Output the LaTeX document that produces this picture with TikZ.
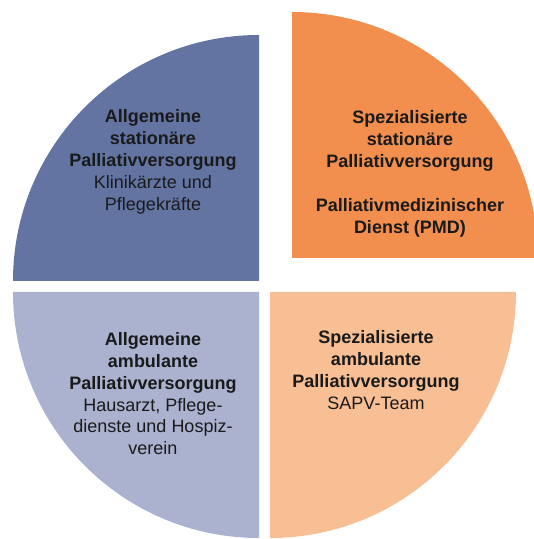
\documentclass[tikz,border=0pt]{standalone}
\usepackage{fontspec}
\setmainfont{Liberation Sans}
\usepackage{tikz}

\definecolor{darkblue}{RGB}{99,116,162}
\definecolor{lightblue}{RGB}{170,178,208}
\definecolor{darkorange}{RGB}{242,143,78}
\definecolor{lightorange}{RGB}{248,190,148}
\definecolor{textgray}{RGB}{26,26,26}

\begin{document}
\begin{tikzpicture}[
        x=1pt, y=1pt,
        quad/.style={draw=none},
        txt/.style={anchor=base, align=center, text=textgray,
                    font=\fontsize{18}{22}\selectfont, inner sep=0pt}
    ]
        \useasboundingbox (0,0) rectangle (534,539);

        % stationaer
        \fill[quad, darkblue] (259,258) -- ++(-246,0)
            arc[start angle=180, end angle=90, radius=246] -- cycle;
        \fill[quad, darkorange] (292,281) -- ++(0,246)
            arc[start angle=90, end angle=0, radius=246] -- cycle;

        % ambulant
        \fill[quad, lightblue] (259,247) -- ++(0,-246)
            arc[start angle=270, end angle=180, radius=246] -- cycle;
        \fill[quad, lightorange] (270,247) -- ++(246,0)
            arc[start angle=0, end angle=-90, radius=246] -- cycle;

        \node[txt] (asp) at (153,328) {\textbf{Allgemeine}\\ \textbf{stationäre}\\
            \textbf{Palliativversorgung}\\ Klinikärzte und\\ Pflegekräfte};
        \node[txt] (ssp) at (410,305) {\textbf{Spezialisierte}\\ \textbf{stationäre}\\
            \textbf{Palliativversorgung}\\[22pt] \textbf{Palliativmedizinischer}\\
            \textbf{Dienst (PMD)}};
        \node[txt] (aap) at (153,84) {\textbf{Allgemeine}\\ \textbf{ambulante}\\
            \textbf{Palliativversorgung}\\ Hausarzt, Pflege-\\
            dienste und Hospiz-\\ verein};
        \node[txt] (sap) at (376,129) {\textbf{Spezialisierte}\\ \textbf{ambulante}\\
            \textbf{Palliativversorgung}\\ SAPV-Team};
    \end{tikzpicture}
\end{document}
